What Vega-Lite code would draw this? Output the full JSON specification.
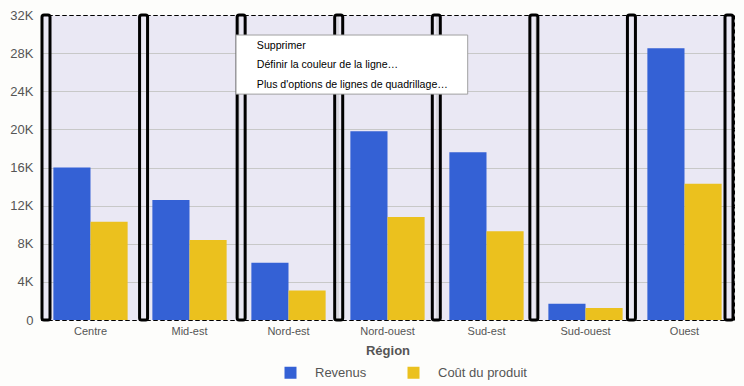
{
  "$schema": "https://vega.github.io/schema/vega-lite/v6.json",
  "autosize": "none",
  "width": 693,
  "height": 305,
  "padding": {"left": 41, "top": 15, "right": 10, "bottom": 66},
  "background": "#FDFDFB",
  "config": {
    "view": {"stroke": "#000000", "strokeDash": [4, 3], "strokeWidth": 1, "fill": "#EAE8F4"},
    "font": "Liberation Sans"
  },
  "datasets": {
    "bars": [
      {"Région": "Centre", "Série": "Revenus", "Valeur": 16000},
      {"Région": "Centre", "Série": "Coût du produit", "Valeur": 10300},
      {"Région": "Mid-est", "Série": "Revenus", "Valeur": 12600},
      {"Région": "Mid-est", "Série": "Coût du produit", "Valeur": 8400},
      {"Région": "Nord-est", "Série": "Revenus", "Valeur": 6000},
      {"Région": "Nord-est", "Série": "Coût du produit", "Valeur": 3100},
      {"Région": "Nord-ouest", "Série": "Revenus", "Valeur": 19800},
      {"Région": "Nord-ouest", "Série": "Coût du produit", "Valeur": 10800},
      {"Région": "Sud-est", "Série": "Revenus", "Valeur": 17600},
      {"Région": "Sud-est", "Série": "Coût du produit", "Valeur": 9300},
      {"Région": "Sud-ouest", "Série": "Revenus", "Valeur": 1700},
      {"Région": "Sud-ouest", "Série": "Coût du produit", "Valeur": 1250},
      {"Région": "Ouest", "Série": "Revenus", "Valeur": 28500},
      {"Région": "Ouest", "Série": "Coût du produit", "Valeur": 14300}
    ],
    "bounds": [{"b": 0}, {"b": 1}, {"b": 2}, {"b": 3}, {"b": 4}, {"b": 5}, {"b": 6}, {"b": 7}],
    "menubox": [{"x0": 1.97, "x1": 4.31, "y0": 29900, "y1": 23700}],
    "menu": [
      {"item": "Supprimer", "mx": 2.18, "my": 28750},
      {"item": "Définir la couleur de la ligne…", "mx": 2.18, "my": 26760},
      {"item": "Plus d'options de lignes de quadrillage…", "mx": 2.18, "my": 24680}
    ]
  },
  "layer": [
    {
      "data": {"name": "bounds"},
      "transform": [{"filter": "datum.b > 0 && datum.b < 7"}],
      "mark": {"type": "rule", "color": "#C8C8C8", "strokeWidth": 1},
      "encoding": {
        "x": {"field": "b", "type": "quantitative", "scale": {"domain": [0, 7], "nice": false, "zero": false}, "axis": null}
      }
    },
    {
      "data": {"name": "bars"},
      "mark": {"type": "bar"},
      "encoding": {
        "x": {
          "field": "Région", "type": "nominal",
          "sort": ["Centre", "Mid-est", "Nord-est", "Nord-ouest", "Sud-est", "Sud-ouest", "Ouest"],
          "scale": {"paddingInner": 0.25, "paddingOuter": 0.125},
          "axis": {
            "labelAngle": 0, "ticks": false, "domain": false, "grid": false,
            "labelFontSize": 11, "labelColor": "#555555", "labelPadding": 5,
            "title": "Région", "titleFontSize": 13, "titleFontWeight": "bold", "titleColor": "#555555", "titlePadding": 8
          }
        },
        "xOffset": {
          "field": "Série", "type": "nominal",
          "sort": ["Revenus", "Coût du produit"],
          "scale": {"paddingInner": 0, "paddingOuter": 0}
        },
        "y": {
          "field": "Valeur", "type": "quantitative",
          "scale": {"domain": [0, 32000], "nice": false},
          "axis": {
            "values": [0, 4000, 8000, 12000, 16000, 20000, 24000, 28000, 32000],
            "labelExpr": "datum.value == 0 ? '0' : (datum.value / 1000) + 'K'",
            "labelOverlap": false,
            "ticks": false, "domain": false,
            "gridColor": {"condition": {"test": "datum.value == 0 || datum.value == 32000", "value": "#000000"}, "value": "#C8C8C8"},
            "gridDash": {"condition": {"test": "datum.value == 0 || datum.value == 32000", "value": [4, 3]}, "value": []},
            "labelFontSize": 13, "labelColor": "#555555", "labelPadding": 8, "title": null
          }
        },
        "color": {
          "field": "Série", "type": "nominal",
          "scale": {"domain": ["Revenus", "Coût du produit"], "range": ["#3461D5", "#EBC11E"]},
          "legend": {
            "title": null, "orient": "none", "direction": "horizontal",
            "legendX": 243, "legendY": 351,
            "symbolType": "square", "symbolSize": 144, "symbolStrokeWidth": 0,
            "labelFontSize": 13, "labelColor": "#555555", "labelOffset": 18,
            "columnPadding": 40
          }
        }
      }
    },
    {
      "data": {"name": "bounds"},
      "mark": {"type": "bar", "orient": "vertical", "width": 8, "fill": null, "fillOpacity": 0, "stroke": "#000000", "strokeWidth": 3, "cornerRadius": 2},
      "encoding": {
        "x": {"field": "b", "type": "quantitative", "scale": {"domain": [0, 7], "nice": false, "zero": false}, "axis": null},
        "y": {"datum": 32000, "type": "quantitative", "axis": null},
        "y2": {"datum": 0}
      }
    },
    {
      "data": {"name": "menubox"},
      "mark": {"type": "rect", "fill": "#FFFFFF", "stroke": "#A0A0A0", "strokeWidth": 1},
      "encoding": {
        "x": {"field": "x0", "type": "quantitative", "scale": {"domain": [0, 7], "nice": false, "zero": false}, "axis": null},
        "x2": {"field": "x1"},
        "y": {"field": "y0", "type": "quantitative", "axis": null},
        "y2": {"field": "y1"}
      }
    },
    {
      "data": {"name": "menu"},
      "mark": {"type": "text", "align": "left", "baseline": "middle", "fontSize": 10.6, "color": "#000000", "font": "Liberation Sans"},
      "encoding": {
        "x": {"field": "mx", "type": "quantitative", "scale": {"domain": [0, 7], "nice": false, "zero": false}, "axis": null},
        "y": {"field": "my", "type": "quantitative", "axis": null},
        "text": {"field": "item"}
      }
    }
  ],
  "resolve": {"scale": {"x": "independent"}, "axis": {"y": "independent"}}
}
